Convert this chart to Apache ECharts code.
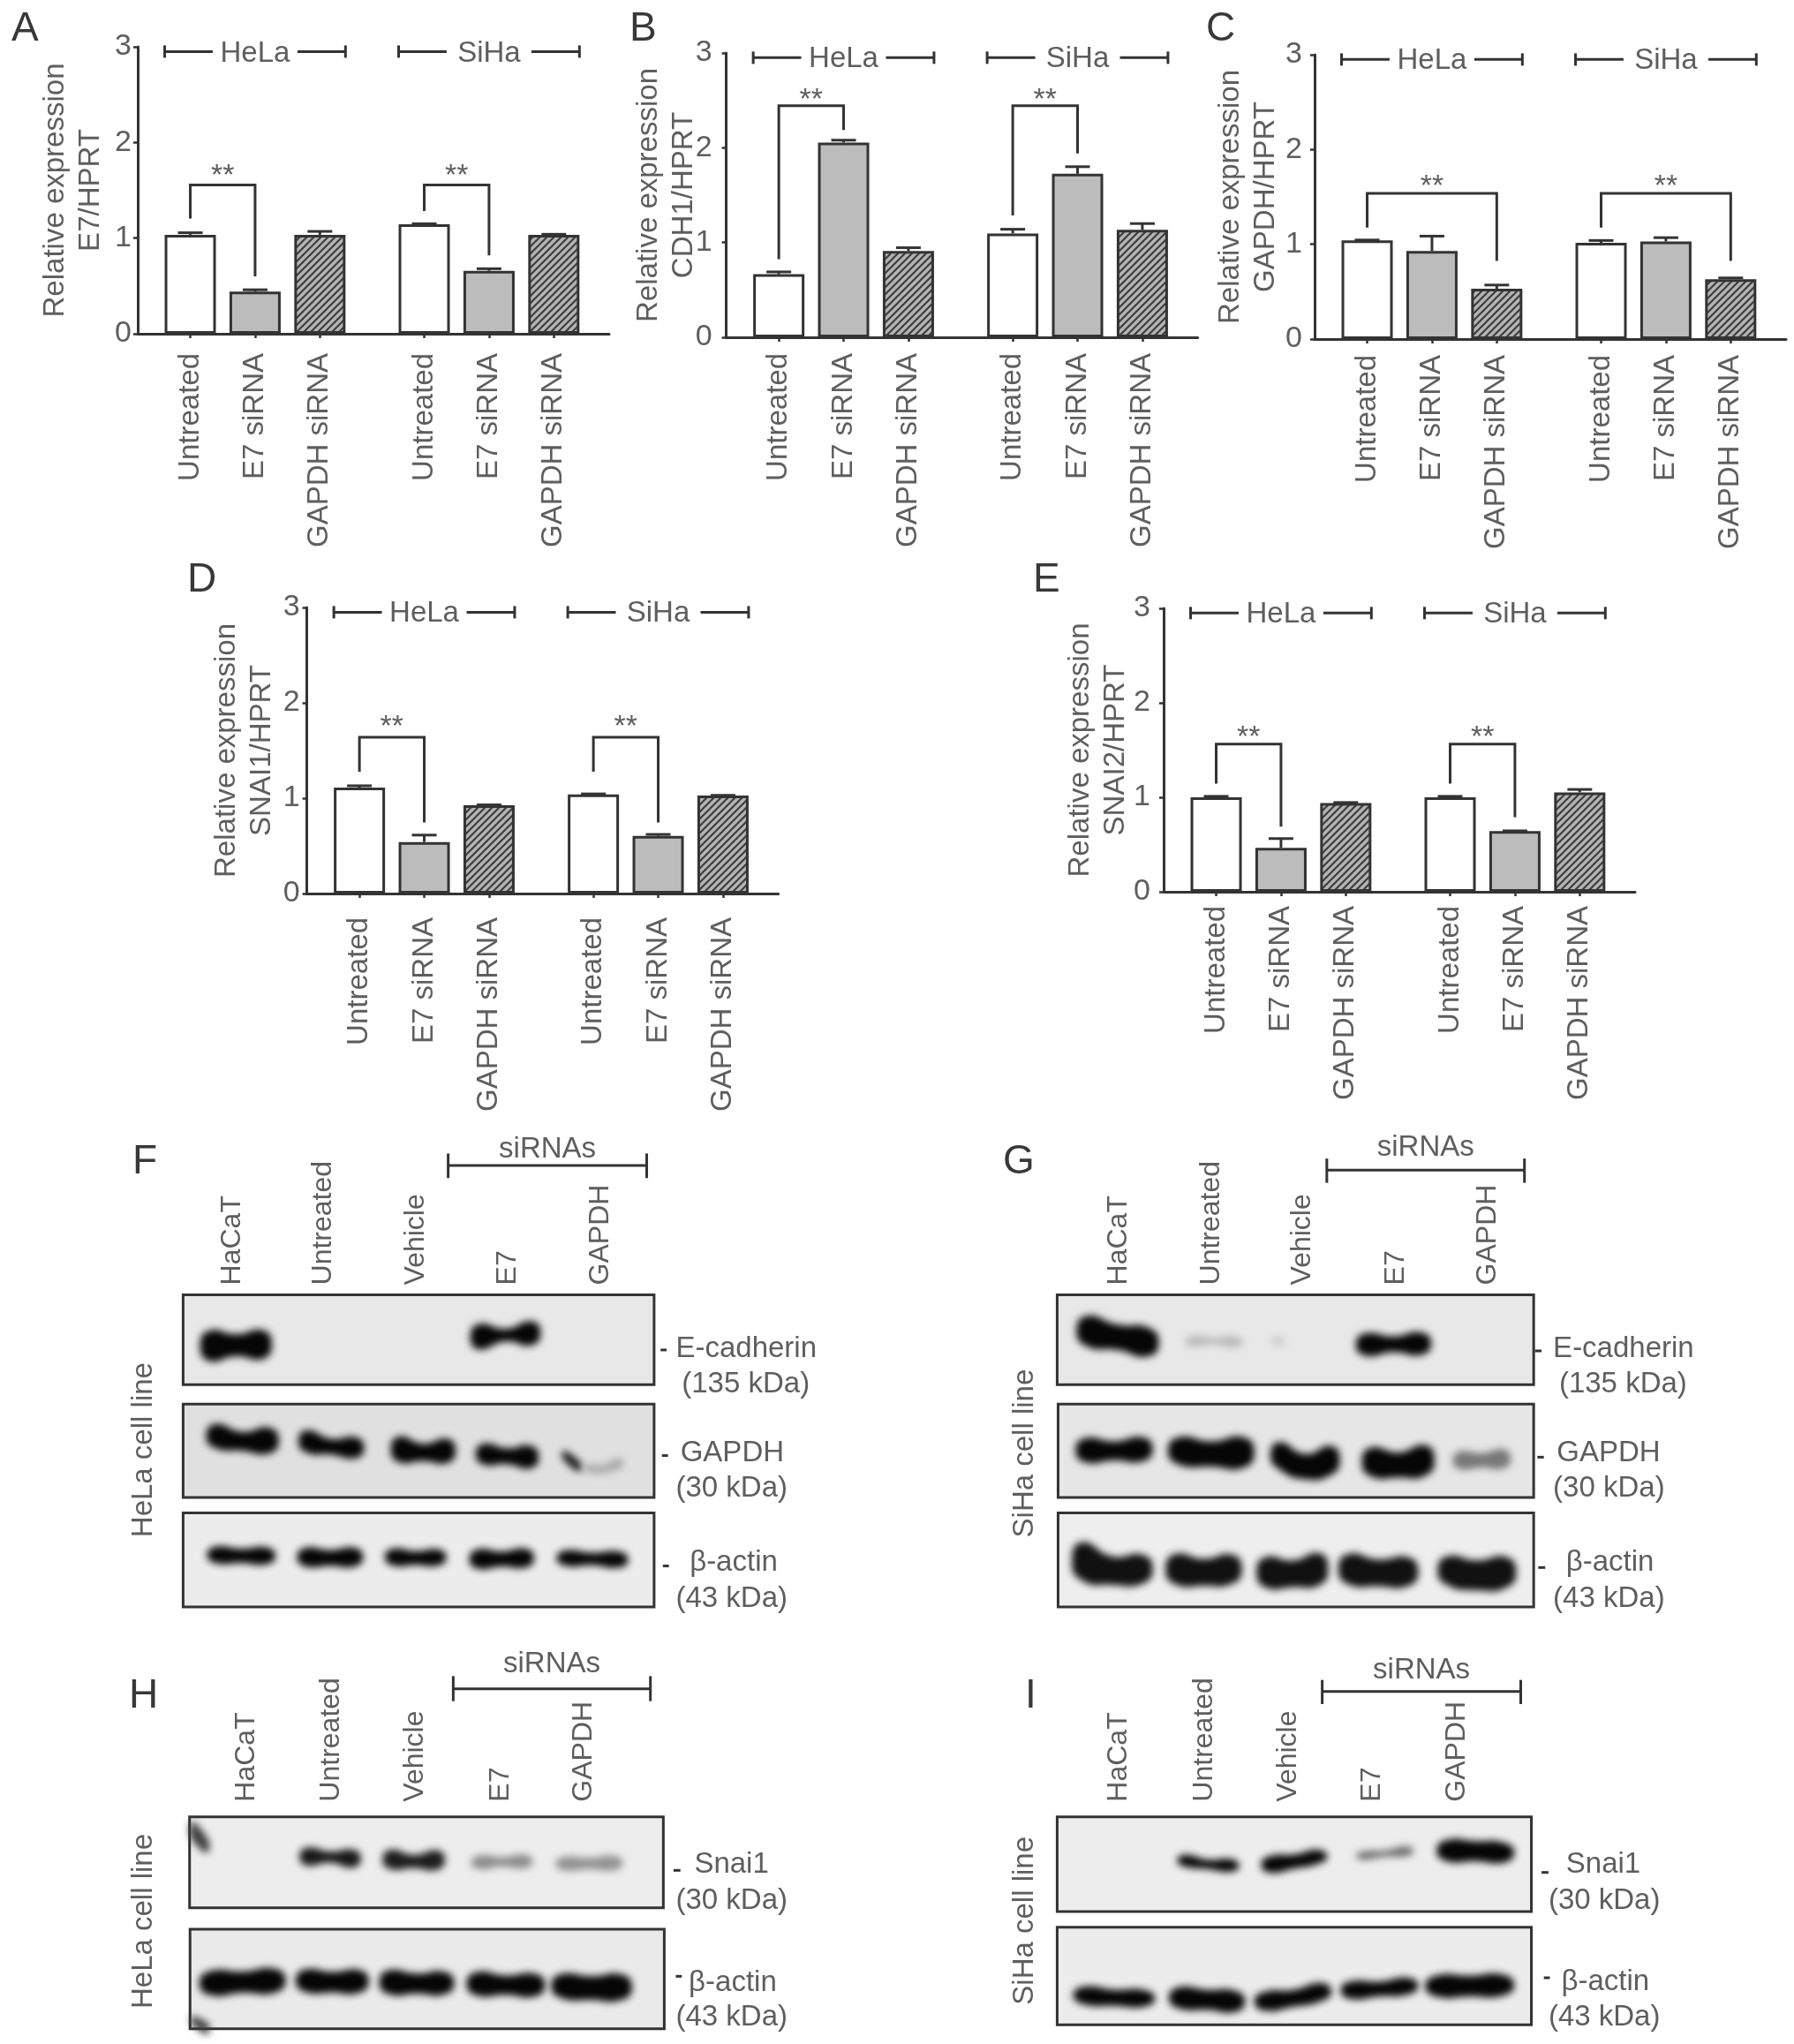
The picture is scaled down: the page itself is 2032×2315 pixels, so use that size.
<!DOCTYPE html>
<html><head><meta charset="utf-8">
<script src="https://cdn.jsdelivr.net/npm/echarts@6/dist/echarts.min.js"></script>
<style>html,body{margin:0;padding:0;background:#fff}#c{width:2032px;height:2315px}</style>
</head><body><div id="c"></div>
<script>
// ---------- data ----------
const categories = ['Untreated','E7 siRNA','GAPDH siRNA','Untreated','E7 siRNA','GAPDH siRNA'];
const slots = [1,2,3,4.61,5.61,6.61];
const cellLines = ['HeLa','SiHa'];
const yTicks = [0,1,2,3];

const A_values = [1.035,0.44,1.035,1.145,0.658,1.035];
const A_errTop = [1.056,0.46,1.07,1.15,0.68,1.04];
const A_brackets = [[0,1,1.555,1.204,0.60],[3,4,1.555,1.283,0.82]];
const B_values = [0.665,2.055,0.91,1.095,1.725,1.135];
const B_errTop = [0.69,2.08,0.945,1.14,1.80,1.20];
const B_brackets = [[0,1,2.443,0.824,2.188],[3,4,2.443,1.286,1.94]];
const C_values = [1.04,0.93,0.53,1.015,1.03,0.632];
const C_errTop = [1.045,1.086,0.57,1.04,1.07,0.645];
const C_brackets = [[0,2,1.537,1.176,0.824],[3,5,1.537,1.176,0.824]];
const D_values = [1.11,0.54,0.925,1.04,0.605,1.028];
const D_errTop = [1.13,0.613,0.93,1.045,0.62,1.03];
const D_brackets = [[0,1,1.64,1.277,0.746],[3,4,1.64,1.277,0.746]];
const E_values = [1.0,0.465,0.94,1.0,0.642,1.052];
const E_errTop = [1.01,0.563,0.945,1.01,0.645,1.083];
const E_brackets = [[0,1,1.563,1.146,0.689],[3,4,1.563,1.146,0.79]];

// western blots: [x1, x2, yLeft, yMid, yRight, hLeft, hMid, hRight, shade]
const F_ecad = [[185,340,712,710,708,85,60,80,0],[770,922,683,678,672,70,30,65,0]];
const F_gapdh = [[198,355,998,1015,1012,65,50,70,0],[398,540,1015,1032,1035,60,40,55,0],[598,738,1040,1050,1045,70,45,65,0],[782,918,1055,1062,1065,55,40,60,0],[968,1012,1060,1078,1095,20,30,20,0.1],[1015,1102,1100,1102,1085,14,16,24,0.72]];
const F_actin = [[200,348,1375,1378,1378,42,35,42,0],[395,538,1382,1385,1382,48,40,48,0],[585,718,1382,1385,1383,42,34,40,0],[768,908,1388,1388,1385,50,38,48,0],[957,1112,1385,1388,1390,38,30,40,0]];
const G_ecad = [[190,368,665,685,700,85,70,80,0],[425,550,697,697,700,22,12,24,0.8],[612,640,697,697,697,16,14,16,0.88],[795,958,708,707,705,60,40,60,0]];
const G_gapdh = [[188,355,1043,1045,1040,65,50,65,0],[388,575,1045,1055,1050,75,70,85,0],[610,760,1060,1095,1075,75,70,80,0],[808,965,1080,1090,1075,80,70,85,0],[1005,1130,1075,1075,1070,45,35,50,0.5]];
const G_actin = [[180,355,1395,1425,1420,110,80,80,0.05],[383,548,1420,1430,1420,85,75,80,0.05],[580,735,1430,1435,1420,85,75,90,0.05],[757,930,1420,1432,1428,85,75,80,0.05],[972,1142,1425,1440,1430,80,85,85,0.05]];
const H_snai1 = [[162,205,580,605,630,50,60,40,0.25],[400,533,668,670,675,50,28,50,0.08],[580,715,678,685,680,55,35,55,0.1],[772,905,688,686,685,35,22,35,0.6],[955,1100,692,692,690,35,28,38,0.62]];
const H_actin = [[183,370,1098,1095,1090,70,62,70,0],[392,550,1090,1095,1092,65,60,65,0],[573,735,1095,1100,1098,70,58,65,0],[762,932,1100,1105,1105,68,55,65,0],[945,1120,1108,1115,1112,70,70,75,0],[164,205,1225,1240,1252,20,30,30,0.25]];
const I_snai1 = [[408,542,682,695,698,30,22,32,0],[590,733,695,685,668,45,38,35,0],[795,920,665,658,650,16,10,22,0.45],[970,1138,648,650,655,60,58,55,0]];
const I_actin = [[183,360,1140,1148,1150,48,45,45,0],[390,555,1148,1155,1160,60,58,60,0],[575,742,1160,1150,1128,52,48,50,0],[762,930,1122,1118,1108,48,40,45,0],[945,1138,1108,1108,1105,60,60,60,0]];

const lanes = ['HaCaT','Untreated','Vehicle','E7','GAPDH'];

// ---------- look ----------
const FONT = '"Liberation Sans", Arial, sans-serif';
const TXT = '#5e5e5e', INK = '#333333';

function hatchTile(){
  const T = 8, c = document.createElement('canvas'); c.width = c.height = T;
  const g = c.getContext('2d');
  g.fillStyle = '#b4b4b4'; g.fillRect(0,0,T,T);
  g.strokeStyle = '#3e3e3e'; g.lineWidth = 2.2;
  [[0,T,T,0],[-T,T,T,-T],[0,2*T,2*T,0]].forEach(p=>{g.beginPath();g.moveTo(p[0],p[1]);g.lineTo(p[2],p[3]);g.stroke();});
  return c;
}
const FILLS = ['#ffffff','#bcbcbc',{image:hatchTile(),repeat:'repeat'}];

const grids = [], xAxes = [], yAxes = [], series = [], graphics = [];

function textEl(x,y,text,o){
  o = o||{};
  return {type:'text',x:x,y:y,rotation:o.rot||0,style:{text:text,fontFamily:FONT,fontSize:o.size||33,fill:o.fill||TXT,align:o.align||'center',verticalAlign:'middle'}};
}
function lineEl(x1,y1,x2,y2,w){
  return {type:'line',shape:{x1:x1,y1:y1,x2:x2,y2:y2},style:{stroke:INK,lineWidth:w||3,lineCap:'butt'}};
}

const XMIN = 0.189, XMAX = 7.464, BAR_HALF = 0.395;

function barPanel(c){
  const gi = grids.length;
  grids.push({left:c.left,top:c.top,width:534,height:c.h,containLabel:false});
  xAxes.push({gridIndex:gi,type:'value',min:XMIN,max:XMAX,splitLine:{show:false},
    axisLine:{onZero:false,lineStyle:{color:INK,width:3}},
    axisTick:{customValues:slots,length:5,lineStyle:{color:INK,width:2.5}},
    axisLabel:{customValues:slots,rotate:90,margin:c.xm,fontFamily:FONT,fontSize:33,color:TXT,
      formatter:v=>categories[slots.indexOf(v)]}});
  yAxes.push({gridIndex:gi,type:'value',min:0,max:3,interval:1,splitLine:{show:false},
    name:'Relative expression\n'+c.ratio,nameLocation:'middle',nameRotate:90,nameGap:c.ng,nameMoveOverlap:false,
    nameTextStyle:{fontFamily:FONT,fontSize:33,color:TXT,lineHeight:40},
    axisLine:{show:true,lineStyle:{color:INK,width:3}},
    axisTick:{show:true,customValues:yTicks,length:5,lineStyle:{color:INK,width:2.5}},
    axisLabel:{customValues:yTicks,margin:c.ym,fontFamily:FONT,fontSize:34,color:TXT,padding:[6,0,0,0]}});
  series.push({type:'bar',xAxisIndex:gi,yAxisIndex:gi,barWidth:58,z:3,silent:true,
    data:c.values.map((v,i)=>({value:[slots[i],v],itemStyle:{color:FILLS[i%3],borderColor:INK,borderWidth:3}}))});
  // error bars
  series.push({type:'custom',xAxisIndex:gi,yAxisIndex:gi,z:2,silent:true,
    data:c.errTop.map((t,i)=>[slots[i],t,c.values[i]]),
    renderItem:(p,api)=>{
      const a=api.coord([api.value(0),api.value(1)]), b=api.coord([api.value(0),api.value(2)]);
      return {type:'group',children:[lineEl(a[0],a[1],b[0],b[1],3),lineEl(a[0]-14,a[1],a[0]+14,a[1],3)]};
    }});
  // significance brackets
  series.push({type:'custom',xAxisIndex:gi,yAxisIndex:gi,z:5,silent:true,
    data:c.brackets.map(b=>[slots[b[0]],slots[b[1]],b[2],b[3],b[4]]),
    renderItem:(p,api)=>{
      const xa=api.value(0),xb=api.value(1),t=api.value(2);
      const tl=api.coord([xa,t]),tr=api.coord([xb,t]),l=api.coord([xa,api.value(3)]),r=api.coord([xb,api.value(4)]);
      return {type:'group',children:[
        {type:'polyline',shape:{points:[l,tl,tr,r]},style:{stroke:INK,lineWidth:3,fill:null}},
        textEl((tl[0]+tr[0])/2,tl[1]-c.star,'**',{size:34})]};
    }});
  // cell-line headers
  series.push({type:'custom',xAxisIndex:gi,yAxisIndex:gi,z:5,silent:true,
    data:[[slots[0]-BAR_HALF,slots[2]+BAR_HALF,slots[1],2.95],[slots[3]-BAR_HALF,slots[5]+BAR_HALF,slots[4],2.95]],
    renderItem:(p,api)=>{
      const y=api.value(3),a=api.coord([api.value(0),y]),b=api.coord([api.value(1),y]),m=api.coord([api.value(2),y]);
      const gap=48;
      return {type:'group',children:[
        lineEl(a[0],a[1],m[0]-gap,a[1],3),lineEl(m[0]+gap,a[1],b[0],a[1],3),
        lineEl(a[0],a[1]-7,a[0],a[1]+7,3),lineEl(b[0],a[1]-7,b[0],a[1]+7,3),
        textEl(m[0],m[1]+2,cellLines[p.dataIndex],{size:33})]};
    }});
}

barPanel({left:156,top:53,h:325,ratio:'E7/HPRT',values:A_values,errTop:A_errTop,brackets:A_brackets,xm:22,ym:7,ng:33,star:10});
barPanel({left:822.6,top:60,h:322,ratio:'CDH1/HPRT',values:B_values,errTop:B_errTop,brackets:B_brackets,xm:18,ym:16,ng:28,star:6});
barPanel({left:1489,top:62,h:322,ratio:'GAPDH/HPRT',values:C_values,errTop:C_errTop,brackets:C_brackets,xm:18,ym:14,ng:35,star:7});
barPanel({left:347.6,top:688,h:324,ratio:'SNAI1/HPRT',values:D_values,errTop:D_errTop,brackets:D_brackets,xm:27,ym:8,ng:31,star:11});
barPanel({left:1318,top:689,h:321,ratio:'SNAI2/HPRT',values:E_values,errTop:E_errTop,brackets:E_brackets,xm:16,ym:15,ng:34,star:7});

const OFF = 6000; // bands are painted by their blurred shadow only, giving the soft film edge
const PAD = 10;   // compensates the thinning the blur causes
function bandSeries(gi,bands){
  series.push({type:'custom',xAxisIndex:gi,yAxisIndex:gi,z:3,silent:true,data:bands,
    renderItem:(p,api)=>{
      const v=i=>api.value(i), x1=v(0),x2=v(1),xm=(x1+x2)/2,e=(x2-x1)*0.12;
      const P=(x,y)=>{const q=api.coord([x,y]);return [q[0]-OFF,q[1]];};
      const hl=v(5)+PAD,hm=v(6)+PAD,hr=v(7)+PAD;
      const pts=[P(x1+e,v(2)-hl/2),P(xm,v(3)-hm/2),P(x2-e,v(4)-hr/2),P(x2,v(4)),
                 P(x2-e,v(4)+hr/2),P(xm,v(3)+hm/2),P(x1+e,v(2)+hl/2),P(x1,v(2))];
      const s=Math.round(v(8)*225)+6, col='rgb('+s+','+s+','+s+')';
      return {type:'polygon',shape:{points:pts,smooth:0.55},style:{fill:col,shadowBlur:8,shadowColor:col,shadowOffsetX:OFF}};
    }});
}

function blotFigure(f){
  f.rows.forEach((r,ri)=>{
    const gi=grids.length;
    const left=f.ox+r.x[0]/f.sx, right=f.ox+r.x[1]/f.sx, top=f.oy+r.y[0]/f.sy, bottom=f.oy+r.y[1]/f.sy;
    grids.push({left:left,top:top,width:right-left,height:bottom-top,show:true,backgroundColor:r.fill,borderColor:INK,borderWidth:3});
    const xa={gridIndex:gi,type:'value',min:r.x[0],max:r.x[1],splitLine:{show:false},axisLine:{show:false},axisTick:{show:false},axisLabel:{show:false}};
    if(ri===0){
      xa.position='top';
      xa.axisLabel={show:true,customValues:f.laneX,rotate:-90,margin:f.laneMargin,fontFamily:FONT,fontSize:32,color:TXT,
        formatter:v=>lanes[f.laneX.indexOf(v)]};
    }
    xAxes.push(xa);
    yAxes.push({gridIndex:gi,type:'value',inverse:true,min:r.y[0],max:r.y[1],splitLine:{show:false},axisLine:{show:false},axisTick:{show:false},axisLabel:{show:false}});
    bandSeries(gi,r.bands);
    if(ri===0){
      const gi0=gi;
      // annotations in the same gel coordinates
      series.push({type:'custom',xAxisIndex:gi0,yAxisIndex:gi0,z:6,silent:true,
        data:f.dashes,
        renderItem:(p,api)=>{const a=api.coord([api.value(0),api.value(2)]),b=api.coord([api.value(1),api.value(2)]);return lineEl(a[0],a[1],b[0],b[1],3);}});
      series.push({type:'custom',xAxisIndex:gi0,yAxisIndex:gi0,z:6,silent:true,
        data:f.proteins.map(t=>[t[1],t[2]]),
        renderItem:(p,api)=>{const a=api.coord([api.value(0),api.value(1)]);return textEl(a[0],a[1],f.proteins[p.dataIndex][0],{align:'left',size:33});}});
      series.push({type:'custom',xAxisIndex:gi0,yAxisIndex:gi0,z:6,silent:true,
        data:[f.cell.slice(1)],
        renderItem:(p,api)=>{const a=api.coord([api.value(0),api.value(1)]);return textEl(a[0],a[1],f.cell[0],{rot:Math.PI/2,size:33});}});
      series.push({type:'custom',xAxisIndex:gi0,yAxisIndex:gi0,z:6,silent:true,
        data:[f.sirna],
        renderItem:(p,api)=>{
          const y=api.value(2),a=api.coord([api.value(0),y]),b=api.coord([api.value(1),y]);
          const t=api.coord([api.value(0),api.value(3)]),u=api.coord([api.value(0),api.value(4)]);
          const lbl=api.coord([(api.value(0)+api.value(1))/2,api.value(5)]);
          return {type:'group',children:[lineEl(a[0],a[1],b[0],b[1],3),lineEl(a[0],t[1],a[0],u[1],3),lineEl(b[0],t[1],b[0],u[1],3),textEl(lbl[0],lbl[1],'siRNAs',{size:33})]};
        }});
    }
  });
}

blotFigure({ox:130,oy:1270,sx:1.912,sy:2.8,laneX:[254,452,652,852,1052],laneMargin:11,
  rows:[{x:[148,1168],y:[550,835],fill:'#e8e8e8',bands:F_ecad},{x:[148,1168],y:[897,1193],fill:'#e0e0e0',bands:F_gapdh},{x:[148,1168],y:[1242,1540],fill:'#ececec',bands:F_actin}],
  dashes:[[1182,1195,725],[1185,1198,1060],[1187,1200,1410]],
  proteins:[['E-cadherin',1215,722],['(135 kDa)',1228,835],['GAPDH',1225,1052],['(30 kDa)',1215,1165],['β-actin',1245,1400],['(43 kDa)',1215,1515]],
  cell:['HeLa cell line',62,1042],sirna:[722,1152,140,102,180,88]});
blotFigure({ox:1120,oy:1270,sx:1.912,sy:2.8,laneX:[282,482,680,882,1080],laneMargin:11,
  rows:[{x:[148,1180],y:[550,835],fill:'#e8e8e8',bands:G_ecad},{x:[150,1180],y:[897,1193],fill:'#e6e6e6',bands:G_gapdh},{x:[150,1180],y:[1242,1540],fill:'#eeeeee',bands:G_actin}],
  dashes:[[1183,1197,728],[1188,1202,1065],[1190,1205,1415]],
  proteins:[['E-cadherin',1222,722],['(135 kDa)',1235,835],['GAPDH',1230,1052],['(30 kDa)',1222,1165],['β-actin',1250,1400],['(43 kDa)',1222,1515]],
  cell:['SiHa cell line',78,1053],sirna:[732,1160,155,118,195,85]});
blotFigure({ox:130,oy:1880,sx:1.912,sy:3,laneX:[286,469,651,836,1016],laneMargin:17,
  rows:[{x:[162,1188],y:[533,842],fill:'#ededed',bands:H_snai1},{x:[163,1190],y:[915,1253],fill:'#eaeaea',bands:H_actin}],
  dashes:[[1210,1225,715],[1215,1228,1075]],
  proteins:[['Snai1',1255,697],['(30 kDa)',1215,818],['β-actin',1243,1098],['(43 kDa)',1215,1215]],
  cell:['HeLa cell line',62,888],sirna:[733,1160,98,55,140,15]});
blotFigure({ox:1120,oy:1880,sx:1.912,sy:3,laneX:[281,466,649,831,1013],laneMargin:17,
  rows:[{x:[148,1175],y:[533,855],fill:'#ededed',bands:I_snai1},{x:[148,1175],y:[908,1240],fill:'#ececec',bands:I_actin}],
  dashes:[[1197,1212,722],[1202,1215,1080]],
  proteins:[['Snai1',1250,697],['(30 kDa)',1212,818],['β-actin',1240,1095],['(43 kDa)',1212,1215]],
  cell:['SiHa cell line',78,886],sirna:[722,1152,107,68,150,35]});

// panel letters
[['A',13,33],['B',713,33],['C',1366,33],['D',212,657],['E',1170,657],['F',150,1316],['G',1136,1316],['H',146,1921],['I',1161,1921]].forEach(l=>{
  graphics.push({type:'text',x:l[1],y:l[2],z:10,style:{text:l[0],fontFamily:FONT,fontSize:46,fill:'#383838',align:'left',verticalAlign:'middle'}});
});

const chart = echarts.init(document.getElementById('c'),null,{renderer:'canvas'});
chart.setOption({animation:false,backgroundColor:'#ffffff',textStyle:{fontFamily:FONT},
  grid:grids,xAxis:xAxes,yAxis:yAxes,series:series,graphic:graphics});
</script></body></html>
